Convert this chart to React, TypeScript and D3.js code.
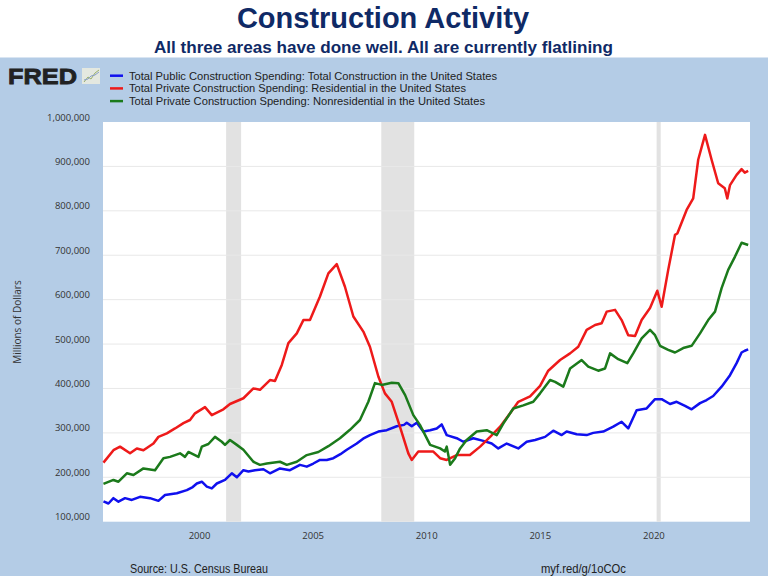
import React from "react";
import * as d3 from "d3";

const title = "Construction Activity";
const subtitle = "All three areas have done well. All are currently flatlining";
const seriesNames = [
  "Total Public Construction Spending: Total Construction in the United States",
  "Total Private Construction Spending: Residential in the United States",
  "Total Private Construction Spending: Nonresidential in the United States",
];
const seriesColors = ["#1010ee", "#ee1a1a", "#1b7a1b"];
const yTicks = [100000, 200000, 300000, 400000, 500000, 600000, 700000, 800000, 900000, 1000000];
const xTicks = [2000, 2005, 2010, 2015, 2020];
const recessions: [number, number][] = [[2001.17, 2001.83], [2008.0, 2009.45], [2020.12, 2020.3]];

// [decimal year, thousands of millions of dollars]
const publicSpending: [number, number][] = [
  [1995.77,146],[1995.99,141],[1996.21,153],[1996.43,145],[1996.72,153],[1997.02,149],[1997.38,156],[1997.82,153],[1998.19,147],[1998.48,160],[1999.0,164],[1999.44,171],[1999.7,178],[1999.88,186],[2000.1,190],[2000.32,179],[2000.54,175],[2000.76,186],[2001.12,194],[2001.42,209],[2001.64,200],[2001.93,216],[2002.15,213],[2002.44,216],[2002.81,218],[2003.1,209],[2003.54,220],[2003.98,216],[2004.42,228],[2004.72,224],[2005.01,231],[2005.3,239],[2005.6,239],[2005.89,243],[2006.2,252],[2006.48,262],[2006.92,276],[2007.2,287],[2007.5,295],[2007.87,303],[2008.24,306],[2008.68,315],[2009.0,318],[2009.12,323],[2009.34,315],[2009.56,323],[2009.85,303],[2010.15,306],[2010.44,310],[2010.66,319],[2010.88,295],[2011.32,288],[2011.61,280],[2012.05,288],[2012.49,282],[2012.86,276],[2013.15,265],[2013.52,276],[2014.03,265],[2014.4,280],[2014.77,284],[2015.21,291],[2015.57,305],[2015.94,295],[2016.16,303],[2016.6,297],[2017.04,295],[2017.33,300],[2017.77,303],[2018.21,314],[2018.58,325],[2018.87,310],[2019.24,351],[2019.68,355],[2020.05,376],[2020.34,376],[2020.71,365],[2021.0,370],[2021.37,361],[2021.66,353],[2022.03,367],[2022.32,374],[2022.61,383],[2022.98,404],[2023.35,430],[2023.64,457],[2023.86,481],[2024.0,485],[2024.15,488],
];
const residential: [number, number][] = [
  [1995.77,233],[1996.21,261],[1996.5,269],[1996.94,254],[1997.24,265],[1997.53,261],[1997.97,276],[1998.19,291],[1998.56,299],[1998.92,310],[1999.29,322],[1999.58,329],[1999.8,344],[2000.24,358],[2000.54,340],[2001.05,353],[2001.34,365],[2001.93,378],[2002.37,400],[2002.66,397],[2003.1,419],[2003.32,417],[2003.62,453],[2003.91,502],[2004.28,524],[2004.57,554],[2004.86,554],[2005.3,607],[2005.67,659],[2006.04,680],[2006.4,629],[2006.77,562],[2007.21,528],[2007.5,494],[2007.87,427],[2008.16,389],[2008.46,370],[2008.82,314],[2009.19,254],[2009.34,239],[2009.63,258],[2010.29,258],[2010.59,243],[2010.88,239],[2011.32,250],[2011.9,250],[2012.35,269],[2012.79,291],[2013.23,314],[2013.67,344],[2014.03,370],[2014.55,382],[2014.99,406],[2015.35,440],[2015.87,464],[2016.31,479],[2016.67,494],[2017.04,532],[2017.41,543],[2017.7,547],[2017.92,573],[2018.29,577],[2018.58,554],[2018.87,520],[2019.17,518],[2019.46,554],[2019.83,581],[2020.15,620],[2020.34,584],[2020.63,667],[2020.93,746],[2021.03,749],[2021.44,802],[2021.73,828],[2021.95,915],[2022.25,971],[2022.54,915],[2022.83,862],[2023.12,851],[2023.23,828],[2023.35,858],[2023.64,881],[2023.86,894],[2024.0,886],[2024.15,890],
];
const nonresidential: [number, number][] = [
  [1995.77,185],[1996.21,194],[1996.43,190],[1996.8,209],[1997.09,205],[1997.53,220],[1998.04,216],[1998.41,243],[1998.7,246],[1999.14,254],[1999.36,246],[1999.51,257],[1999.95,246],[2000.1,269],[2000.39,275],[2000.68,291],[2000.98,280],[2001.12,273],[2001.34,284],[2001.64,273],[2001.93,262],[2002.37,235],[2002.66,228],[2002.96,231],[2003.54,235],[2003.84,228],[2004.28,235],[2004.72,250],[2005.23,257],[2005.67,270],[2006.18,288],[2006.62,307],[2007.06,329],[2007.43,370],[2007.72,412],[2008.02,408],[2008.46,413],[2008.75,412],[2009.05,385],[2009.41,340],[2009.7,318],[2010.15,273],[2010.59,265],[2010.8,258],[2010.88,269],[2011.03,228],[2011.25,243],[2011.47,265],[2011.76,284],[2012.2,303],[2012.64,306],[2013.08,295],[2013.37,321],[2013.81,355],[2014.25,362],[2014.69,370],[2014.99,389],[2015.43,419],[2015.65,415],[2016.01,404],[2016.31,445],[2016.82,464],[2017.11,449],[2017.55,440],[2017.85,445],[2018.07,479],[2018.43,466],[2018.83,457],[2019.09,479],[2019.46,513],[2019.83,532],[2020.05,520],[2020.27,496],[2020.63,487],[2020.93,481],[2021.29,491],[2021.66,496],[2022.03,524],[2022.39,554],[2022.69,573],[2022.98,626],[2023.27,667],[2023.57,697],[2023.86,728],[2024.15,723],
];
const allSeries = [publicSpending, residential, nonresidential];

const W = 768, H = 576;
const plot = { left: 103, right: 750, top: 122, bottom: 521.7 };

export default function App() {
  const x = d3.scaleLinear().domain([1995.75, 2024.23]).range([plot.left, plot.right]);
  const y = d3.scaleLinear().domain([100000, 1000000]).range([plot.bottom, plot.top]);
  const line = d3.line<[number, number]>()
    .x((d) => x(d[0]))
    .y((d) => y(d[1] * 1000));
  const fmt = d3.format(",");
  const legendEnds = [497, 466, 485];
  const font = "'Open Sans', 'DejaVu Sans', sans-serif";
  const narrow = "'Liberation Sans Narrow', 'Liberation Sans', Arial, sans-serif";

  return (
    <div style={{ position: "absolute", left: 0, top: 0 }}>
      <svg width={W} height={H} style={{ display: "block" }}>
        <rect x={0} y={0} width={W} height={H} fill="#ffffff" />
        <rect x={0} y={57.5} width={W} height={H - 57.5} fill="#b4cce6" />
        <text x={383} y={28} textAnchor="middle" fontFamily="'Liberation Sans', Arial, sans-serif" fontWeight="bold" fontSize={29} fill="#0f2a66">{title}</text>
        <text x={383.5} y={53} textAnchor="middle" fontFamily="'Liberation Sans', Arial, sans-serif" fontWeight="bold" fontSize={16} fill="#0f2a66" textLength={459} lengthAdjust="spacingAndGlyphs">{subtitle}</text>

        {/* FRED logo */}
        <text x={8} y={84} fontFamily="'Liberation Sans', Arial, sans-serif" fontWeight="bold" fontSize={22} fill="#222" textLength={69} lengthAdjust="spacingAndGlyphs" stroke="#222" strokeWidth={0.8}>FRED</text>
        <rect x={82} y={68} width={18} height={16} fill="#e4e8e0" />
        <polyline points="84,82 88,77 91,79 95,73 99,70" fill="none" stroke="#9ab06a" strokeWidth={1} />
        <polyline points="84,80 88,79 91,76 95,75 99,72" fill="none" stroke="#8aa0c8" strokeWidth={1} />

        {/* legend */}
        {seriesNames.map((name, i) => (
          <g key={name}>
            <line x1={110} x2={123} y1={75.7 + i * 12.7} y2={75.7 + i * 12.7} stroke={seriesColors[i]} strokeWidth={2.5} />
            <text x={129} y={79.7 + i * 12.7} fontFamily={narrow} fontSize={11.5} fill="#222" textLength={legendEnds[i] - 129} lengthAdjust="spacingAndGlyphs">{name}</text>
          </g>
        ))}

        {/* plot area */}
        <rect x={plot.left} y={plot.top} width={plot.right - plot.left} height={plot.bottom - plot.top} fill="#ffffff" />
        {recessions.map(([a, b], i) => (
          <rect key={i} x={x(a)} y={plot.top} width={x(b) - x(a)} height={plot.bottom - plot.top} fill="#e2e2e2" />
        ))}
        {yTicks.map((t) => (
          <g key={t}>
            {t > 100000 && t < 1000000 && (
              <line x1={plot.left} x2={plot.right} y1={y(t)} y2={y(t)} stroke="#e8e8e8" strokeWidth={1} />
            )}
            <text x={90} y={y(t) - 1.5} textAnchor="end" fontFamily={font} fontSize={9.5} fill="#333">{fmt(t)}</text>
          </g>
        ))}
        {xTicks.map((t) => (
          <text key={t} x={x(t)} y={539} textAnchor="middle" fontFamily={font} fontSize={9.5} fill="#333">{t}</text>
        ))}
        <text transform={`translate(21,322) rotate(-90)`} textAnchor="middle" fontFamily={font} fontSize={10} fill="#333">Millions of Dollars</text>

        {allSeries.map((s, i) => (
          <path key={i} d={line(s) || ""} fill="none" stroke={seriesColors[i]} strokeWidth={2.5} strokeLinejoin="round" />
        ))}

        <text x={130} y={573} fontFamily={narrow} fontSize={12} fill="#222" textLength={138} lengthAdjust="spacingAndGlyphs">Source: U.S. Census Bureau</text>
        <text x={541} y={573} fontFamily={narrow} fontSize={12} fill="#222" textLength={85} lengthAdjust="spacingAndGlyphs">myf.red/g/1oCOc</text>
      </svg>
    </div>
  );
}
